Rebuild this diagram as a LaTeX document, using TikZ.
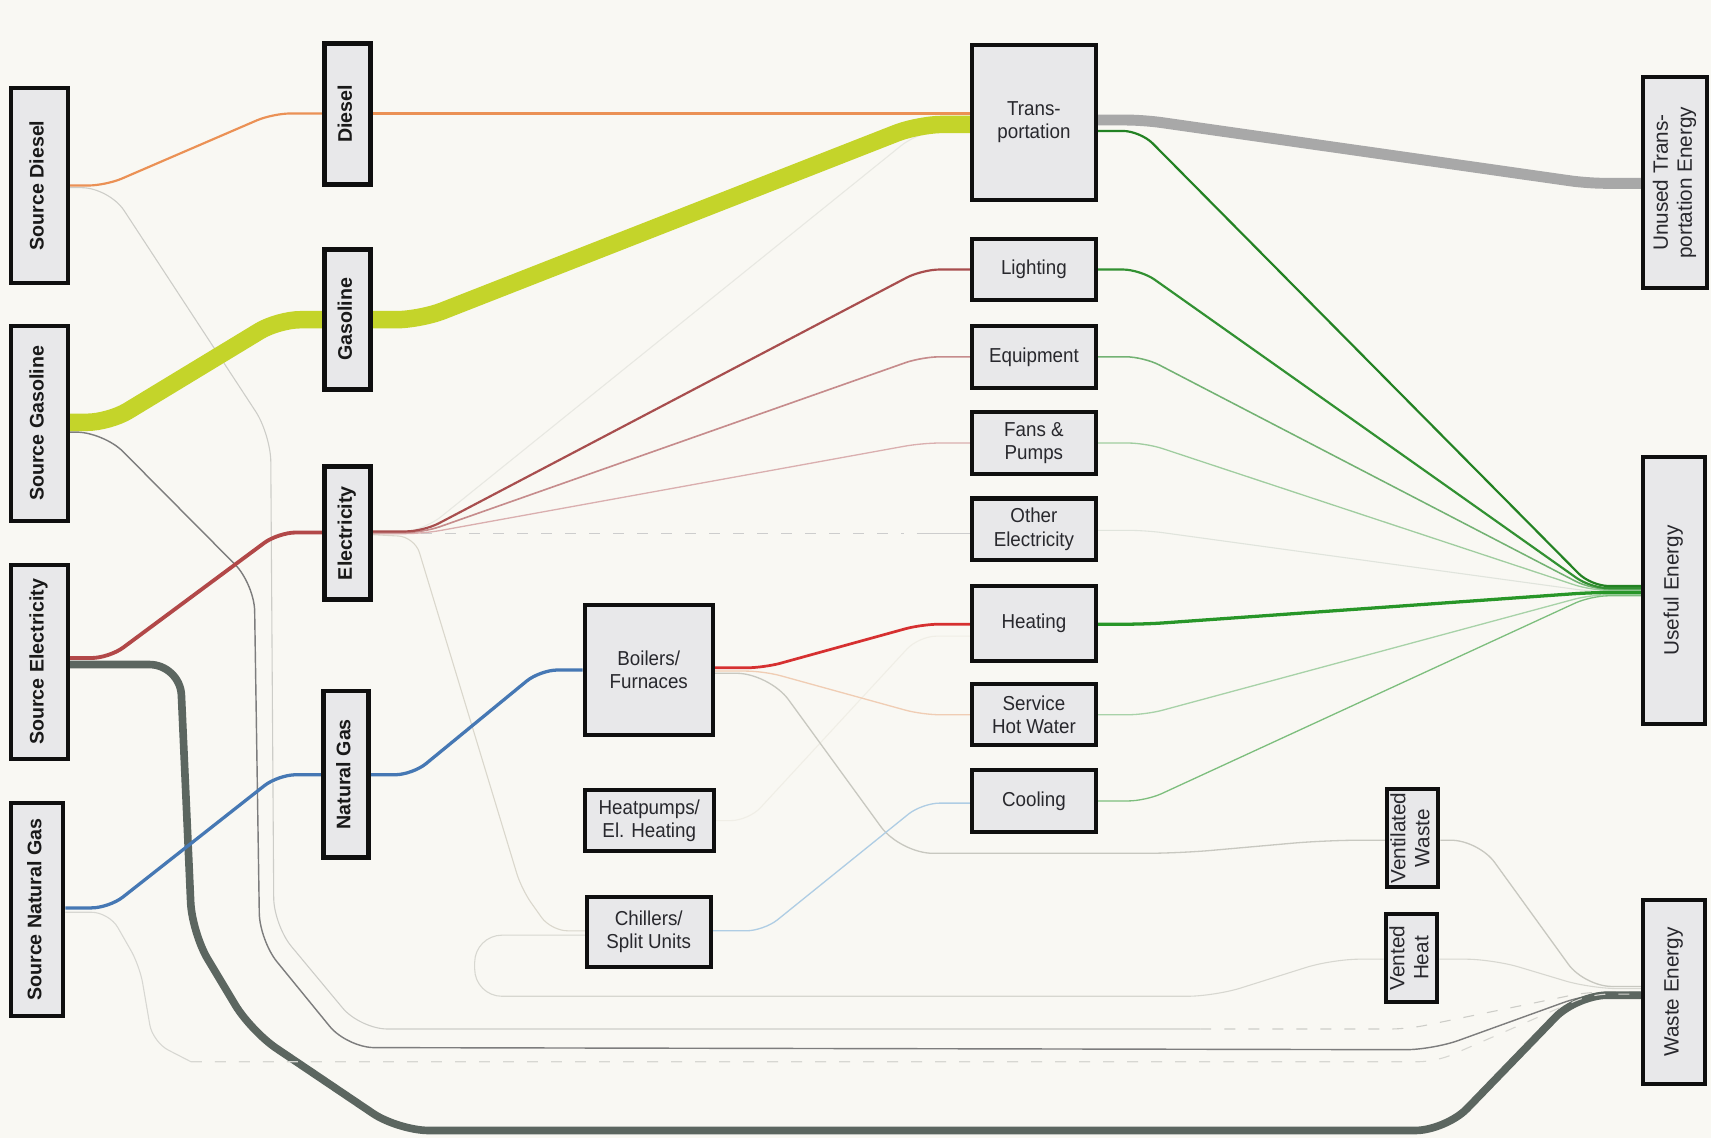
\documentclass[tikz,border=0pt]{standalone}
\usepackage{fontspec}
\setmainfont{Liberation Sans}
\newfontfamily\narrowfont[FakeStretch=0.93]{Liberation Sans}
\pgfdeclarelayer{bglayer}
\pgfdeclarelayer{flowlayer}
\pgfsetlayers{bglayer,flowlayer,main}

\definecolor{bgc}{RGB}{249,248,243}
\definecolor{boxc}{RGB}{232,232,234}
\definecolor{txtc}{RGB}{40,40,45}
\definecolor{cDiesel}{RGB}{235,145,85}
\definecolor{cGas}{RGB}{196,212,42}
\definecolor{cElecIn}{RGB}{178,72,72}
\definecolor{cThick}{RGB}{92,102,96}
\definecolor{cBlue}{RGB}{70,120,180}
\definecolor{cGrayG}{RGB}{125,125,125}
\definecolor{cFaintD}{RGB}{205,205,200}
\definecolor{cFaintN}{RGB}{215,215,210}
\definecolor{cVent}{RGB}{200,200,192}
\definecolor{cVentB}{RGB}{215,215,208}
\definecolor{cFaintE}{RGB}{218,215,204}
\definecolor{cFaintT}{RGB}{232,232,226}
\definecolor{cLight}{RGB}{168,78,78}
\definecolor{cEquip}{RGB}{198,140,140}
\definecolor{cFans}{RGB}{218,175,175}
\definecolor{cOther}{RGB}{205,205,205}
\definecolor{cHeatR}{RGB}{214,48,48}
\definecolor{cSHW}{RGB}{240,205,180}
\definecolor{cCool}{RGB}{175,205,228}
\definecolor{gTrans}{RGB}{35,130,35}
\definecolor{gLight}{RGB}{50,145,50}
\definecolor{gEquip}{RGB}{115,178,115}
\definecolor{gFans}{RGB}{160,205,160}
\definecolor{gHeat}{RGB}{40,150,40}
\definecolor{gSHW}{RGB}{168,210,168}
\definecolor{gCool}{RGB}{125,190,125}
\definecolor{gOther}{RGB}{224,228,220}
\definecolor{cUnused}{RGB}{168,168,168}
\definecolor{cFaintHP}{RGB}{240,238,230}
\definecolor{boxline}{RGB}{15,15,15}

\newcommand\rlab[1]{\rotatebox{90}{\begin{tabular}{@{}c@{}}#1\end{tabular}}}

\tikzset{
  box/.style={draw=boxline, fill=boxc, line width=3.7pt, inner sep=0pt, align=center, text=txtc,
    font=\narrowfont\fontsize{18.5}{21.5}\selectfont},
  rbox/.style={box, font=\fontsize{19}{22}\selectfont},
  sbox/.style={box, text=black!90, font=\bfseries\fontsize{18}{20}\selectfont},
  cbox/.style={sbox, line width=4.5pt},
  flow/.style={rounded corners=16pt, line join=round},
  dsh/.style={dash pattern=on 10pt off 12pt},
}

\begin{document}
\begin{tikzpicture}[x=1pt, y=-1pt]
\begin{pgfonlayer}{bglayer}
\fill[bgc] (0,0) rectangle (1568,1043);
\end{pgfonlayer}
\useasboundingbox (0,0) rectangle (1568,1043);

% ---------- nodes ----------
\node[sbox, minimum width=52.3pt, minimum height=178.3pt] (srcD) at (36,170) {\rlab{Source Diesel}};
\node[sbox, minimum width=52.3pt, minimum height=178.3pt] (srcG) at (36,388) {\rlab{Source Gasoline}};
\node[sbox, minimum width=52.3pt, minimum height=177.3pt] (srcE) at (36,606.5) {\rlab{Source Electricity}};
\node[sbox, minimum width=48.3pt, minimum height=195.3pt] (srcN) at (34,833.5) {\rlab{Source Natural Gas}};

\node[cbox, minimum width=42.5pt, minimum height=128.5pt] (diesel) at (318.5,104.5) {\rlab{Diesel}};
\node[cbox, minimum width=42.5pt, minimum height=128.5pt] (gasoline) at (318.5,292.5) {\rlab{Gasoline}};
\node[cbox, minimum width=42.5pt, minimum height=122.5pt] (elec) at (318.5,488.5) {\rlab{Electricity}};
\node[cbox, minimum width=41.5pt, minimum height=152.5pt] (ngas) at (317,709.5) {\rlab{Natural Gas}};

\node[box, minimum width=113.3pt, minimum height=142.3pt] (trans) at (947.5,112) {Trans-\\portation};
\node[box, minimum width=113.3pt, minimum height=56.3pt] (light) at (947.5,247) {Lighting};
\node[box, minimum width=113.3pt, minimum height=56.3pt] (equip) at (947.5,327) {Equipment};
\node[box, minimum width=113.3pt, minimum height=56.3pt] (fans) at (947.5,406) {Fans \&\\Pumps};
\node[box, minimum width=113.3pt, minimum height=56.3pt] (other) at (947.5,485) {Other\\Electricity};
\node[box, minimum width=113.3pt, minimum height=69.3pt] (heat) at (947.5,571.5) {Heating};
\node[box, minimum width=113.3pt, minimum height=56.3pt] (shw) at (947.5,655) {Service\\Hot Water};
\node[box, minimum width=113.3pt, minimum height=56.3pt] (cool) at (947.5,734) {Cooling};

\node[box, minimum width=117.3pt, minimum height=118.3pt] (boil) at (594.5,614) {Boilers/\\Furnaces};
\node[box, minimum width=118.3pt, minimum height=56.3pt] (hp) at (595,752) {Heatpumps/\\El. Heating};
\node[box, minimum width=113.3pt, minimum height=64.3pt] (chill) at (594.5,854) {Chillers/\\Split Units};

\node[rbox, minimum width=47.3pt, minimum height=90.3pt] (vwaste) at (1294.5,768) {\rlab{Ventilated\\Waste}};
\node[rbox, minimum width=47.3pt, minimum height=80.3pt] (vheat) at (1293.5,878) {\rlab{Vented\\Heat}};

\node[rbox, minimum width=58.3pt, minimum height=193.3pt] (unused) at (1535,167.5) {\rlab{Unused Trans-\\portation Energy}};
\node[rbox, minimum width=56.3pt, minimum height=244.3pt] (useful) at (1534,541) {\rlab{Useful Energy}};
\node[rbox, minimum width=56.3pt, minimum height=168.3pt] (waste) at (1534,909) {\rlab{Waste Energy}};

% ---------- flows ----------
\begin{pgfonlayer}{flowlayer}
% faint background flows
\draw[flow, cFaintT, line width=1pt, rounded corners=25pt] (elec.east |- 0,489) -- (385,489) -- (845,118) -- (trans.west |- 0,118);
\draw[flow, cFaintE, line width=1pt, rounded corners=15pt] (elec.east |- 0,490) -- (380,492) -- (478,815) -- (505,853) -- (chill.west |- 0,853);
\draw[flow, cFaintHP, line width=1pt] (hp.east |- 0,752) -- (686,752) -- (842,583) -- (heat.west |- 0,583);

% Source Diesel
\draw[flow, cFaintD, line width=1pt, rounded corners=25pt] (srcD.east |- 0,172) -- (100,172) -- (248,398) -- (251,848) -- (330,943) -- (1100,943) coordinate (dA);
\draw[flow, cFaintD, line width=1pt, dsh] (dA) -- (1290,943) -- (1455,909) -- (waste.west |- 0,909);
\draw[flow, cDiesel, line width=2pt] (srcD.east |- 0,170) -- (97,170) -- (250,104) -- (diesel.west |- 0,104);
\draw[flow, cDiesel, line width=2pt] (diesel.east |- 0,104) -- (trans.west |- 0,104);

% Source Gasoline
\draw[flow, cGrayG, line width=1.3pt, rounded corners=25pt] (srcG.east |- 0,396) -- (95,396) -- (233,535) -- (238,862) -- (318,960) -- (1313,962) -- (1457,910) -- (waste.west |- 0,910);
\draw[flow, cGas, line width=16pt, rounded corners=20pt] (srcG.east |- 0,387) -- (100,387) -- (255,293) -- (gasoline.west |- 0,293);
\draw[flow, cGas, line width=16pt, rounded corners=22pt] (gasoline.east |- 0,293) -- (385,293) -- (842,114) -- (trans.west |- 0,114);

% Source Electricity
\draw[flow, cThick, line width=7pt, rounded corners=28pt] (srcE.east |- 0,609) -- (165,609) -- (176,855) -- (230,945) -- (365,1036) -- (1325,1036) -- (1445,912) -- (waste.west |- 0,912);
\draw[flow, cElecIn, line width=3.5pt] (srcE.east |- 0,603) -- (100,603) -- (255,488) -- (elec.west |- 0,488);

% Source Natural Gas
\draw[flow, cFaintN, line width=1pt] (srcN.east |- 0,836) -- (100,836) -- (128,885) -- (140,955) -- (175,973) coordinate (nA);
\draw[flow, cFaintN, line width=1pt, dsh] (nA) -- (1316,973) -- (1458,911) -- (waste.west |- 0,911);
\draw[flow, cBlue, line width=3pt] (srcN.east |- 0,832) -- (100,832) -- (255,710) -- (ngas.west |- 0,710);
\draw[flow, cBlue, line width=3pt] (ngas.east |- 0,710) -- (378,710) -- (495,614) -- (boil.west |- 0,614);

% Electricity to end uses
\draw[flow, cOther, line width=1.2pt, dsh] (elec.east |- 0,489) -- (828,489);
\coordinate (oB) at (840,489);
\draw[cOther, line width=1.2pt] (oB) -- (other.west |- 0,489);
\draw[flow, cFans, line width=1.2pt] (elec.east |- 0,489) -- (388,489) -- (845,406) -- (fans.west |- 0,406);
\draw[flow, cEquip, line width=1.5pt] (elec.east |- 0,488) -- (388,488) -- (845,327) -- (equip.west |- 0,327);
\draw[flow, cLight, line width=2pt] (elec.east |- 0,487) -- (388,487) -- (845,247) -- (light.west |- 0,247);

% Boilers / Chillers
\draw[flow, cVent, line width=1.2pt, rounded corners=30pt] (boil.east |- 0,617) -- (705,617) -- (825,782) -- (1080,782) -- (1215,770) -- (vwaste.west |- 0,770);
\draw[flow, cVent, line width=1.2pt, rounded corners=25pt] (vwaste.east |- 0,770) -- (1355,770) -- (1452,904) -- (waste.west |- 0,904);
\draw[flow, cSHW, line width=1.2pt] (boil.east |- 0,615) -- (700,615) -- (845,655) -- (shw.west |- 0,655);
\draw[flow, cHeatR, line width=2.5pt] (boil.east |- 0,612) -- (700,612) -- (845,572) -- (heat.west |- 0,572);
\draw[flow, cVentB, line width=1pt, rounded corners=25pt] (chill.west |- 0,857) -- (435,857) -- (435,913) -- (1113,913) -- (1221,879) -- (vheat.west |- 0,879);
\draw[flow, cVentB, line width=1pt, rounded corners=25pt] (vheat.east |- 0,879) -- (1368,879) -- (1458,906) -- (waste.west |- 0,906);
\draw[flow, cCool, line width=1.2pt] (chill.east |- 0,853) -- (700,853) -- (845,736) -- (cool.west |- 0,736);

% To final sinks
\draw[flow, cUnused, line width=10pt] (trans.east |- 0,110) -- (1048,110) -- (1455,168) -- (unused.west |- 0,168);
\draw[flow, gOther, line width=1pt] (other.east |- 0,486) -- (1050,486) -- (1458,542) -- (useful.west |- 0,542);
\draw[flow, gFans, line width=1.2pt] (fans.east |- 0,406) -- (1050,406) -- (1458,541) -- (useful.west |- 0,541);
\draw[flow, gSHW, line width=1.2pt] (shw.east |- 0,655) -- (1050,655) -- (1458,545) -- (useful.west |- 0,545);
\draw[flow, gCool, line width=1.2pt] (cool.east |- 0,734) -- (1050,734) -- (1458,546) -- (useful.west |- 0,546);
\draw[flow, gEquip, line width=1.4pt] (equip.east |- 0,327) -- (1048,327) -- (1458,540) -- (useful.west |- 0,540);
\draw[flow, gLight, line width=2pt] (light.east |- 0,247) -- (1045,247) -- (1458,539) -- (useful.west |- 0,539);
\draw[flow, gTrans, line width=2pt] (trans.east |- 0,120) -- (1045,120) -- (1458,537) -- (useful.west |- 0,537);
\draw[flow, gHeat, line width=3pt] (heat.east |- 0,572) -- (1050,572) -- (1458,543) -- (useful.west |- 0,543);
\end{pgfonlayer}
\end{tikzpicture}
\end{document}
